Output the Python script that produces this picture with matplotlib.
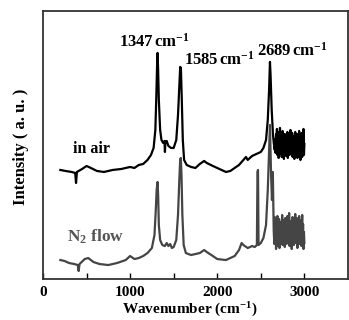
import matplotlib
matplotlib.use('Agg')
import matplotlib.pyplot as plt

plt.rcParams['font.family'] = ['Liberation Serif', 'DejaVu Serif']
plt.rcParams['font.weight'] = 'bold'
plt.rcParams['mathtext.fontset'] = 'custom'
plt.rcParams['mathtext.rm'] = 'Liberation Serif:bold'
plt.rcParams['mathtext.it'] = 'Liberation Serif:bold'
plt.rcParams['mathtext.bf'] = 'Liberation Serif:bold'

# Raman spectra (wavenumber in cm-1, intensity in a.u.)
air_wn = [200, 260, 330, 370, 380, 390, 450, 500, 550, 620, 700, 800, 900, 1000,
          1050, 1100, 1150, 1200, 1240, 1270, 1290, 1300, 1310, 1315, 1322, 1330,
          1345, 1360, 1380, 1395, 1400, 1405, 1420, 1440, 1470, 1500, 1530, 1550,
          1565, 1575, 1583, 1592, 1605, 1620, 1650, 1700, 1750, 1800, 1850, 1880,
          1950, 2000, 2050, 2100, 2150, 2200, 2250, 2300, 2330, 2350, 2400, 2450,
          2500, 2530, 2560, 2580, 2595, 2605, 2612, 2625, 2640, 2650,
          2660, 2665, 2670, 2675, 2680, 2685, 2690, 2695, 2700, 2705, 2710, 2715,
          2720, 2725, 2730, 2735, 2740, 2745, 2750, 2755, 2760, 2765, 2770, 2775,
          2780, 2785, 2790, 2795, 2800, 2805, 2810, 2815, 2820, 2825, 2830, 2835,
          2840, 2845, 2850, 2855, 2860, 2865, 2870, 2875, 2880, 2885, 2890, 2895,
          2900, 2905, 2910, 2915, 2920, 2925, 2930, 2935, 2940, 2945, 2950, 2955,
          2960, 2965, 2970, 2975, 2980, 2985, 2990, 2995, 3000]
air_int = [109, 108, 107, 106, 96, 107, 110, 113, 111, 108, 107, 109, 110, 112,
           111, 114, 115, 119, 124, 131, 149, 179, 214, 226, 209, 179,
           149, 139, 136, 138, 127, 137, 138, 133, 131, 131, 139, 164,
           194, 212, 211, 184, 139, 119, 114, 112, 111, 115, 118, 116,
           113, 111, 109, 107, 108, 111, 114, 119, 122, 119, 123, 125,
           127, 131, 139, 159, 189, 217, 204, 169, 144, 135,
           129, 140, 126, 145, 131, 150, 124, 138, 147, 121, 142, 130,
           151, 125, 139, 146, 122, 136, 148, 127, 141, 120, 137, 145,
           128, 140, 123, 143, 132, 147, 121, 138, 129, 144, 124, 136,
           149, 126, 140, 131, 146, 122, 137, 128, 143, 120, 135, 147,
           125, 139, 130, 145, 121, 136, 142, 124, 148, 127, 138, 119,
           141, 133, 146, 122, 137, 128, 150, 124, 135]

n2_wn = [200, 250, 300, 360, 400, 410, 420, 480, 520, 580, 650, 750, 850, 950,
         1000, 1050, 1100, 1150, 1200, 1250, 1280, 1295, 1305, 1315, 1322, 1330,
         1345, 1370, 1400, 1420, 1440, 1460, 1480, 1500, 1530, 1550, 1565, 1575,
         1582, 1590, 1600, 1615, 1640, 1700, 1800, 1850, 1880, 1950, 2000, 2100,
         2200, 2250, 2280, 2300, 2350, 2400, 2430, 2455, 2462, 2468, 2474, 2500,
         2530, 2560, 2580, 2595, 2605, 2612, 2618, 2628, 2638, 2648,
         2655, 2660, 2665, 2670, 2675, 2680, 2685, 2690, 2695, 2700, 2705, 2710,
         2715, 2720, 2725, 2730, 2735, 2740, 2745, 2750, 2755, 2760, 2765, 2770,
         2775, 2780, 2785, 2790, 2795, 2800, 2805, 2810, 2815, 2820, 2825, 2830,
         2835, 2840, 2845, 2850, 2855, 2860, 2865, 2870, 2875, 2880, 2885, 2890,
         2895, 2900, 2905, 2910, 2915, 2920, 2925, 2930, 2935, 2940, 2945, 2950,
         2955, 2960, 2965, 2970, 2975, 2980, 2985, 2990, 2995, 3000]
n2_int = [19, 18, 16, 15, 14, 8, 15, 20, 21, 17, 15, 14, 16, 19,
          23, 20, 21, 23, 26, 31, 44, 69, 89, 97, 84, 54,
          39, 34, 33, 36, 33, 35, 31, 32, 39, 64, 99, 119,
          121, 104, 64, 34, 26, 24, 26, 29, 27, 23, 20, 19,
          23, 29, 36, 34, 31, 33, 32, 34, 107, 109, 34, 36,
          41, 54, 89, 129, 154, 129, 104, 79, 107, 49,
          35, 62, 38, 55, 30, 58, 41, 63, 33, 52, 44, 60,
          31, 49, 57, 36, 54, 42, 64, 34, 51, 39, 59, 45,
          32, 61, 40, 55, 35, 50, 63, 37, 53, 43, 66, 33,
          48, 58, 38, 56, 30, 51, 62, 41, 54, 34, 60, 44,
          65, 36, 52, 40, 61, 31, 50, 57, 39, 63, 35, 53,
          45, 59, 33, 48, 64, 37, 55, 30, 47, 36]

fig = plt.figure(figsize=(3.49, 3.2), dpi=100)
ax = fig.add_axes([0.123, 0.128, 0.874, 0.838])

ax.plot(air_wn, air_int, color='black', lw=1.6)
ax.plot(n2_wn, n2_int, color='#454545', lw=1.6)

ax.set_xlim(0, 3500)
ax.set_ylim(0, 268)
ax.set_xticks([0, 1000, 2000, 3000])
ax.set_xticks([500, 1500, 2500], minor=True)
ax.set_yticks([])
ax.tick_params(axis='x', which='both', direction='in', length=4, width=1,
               pad=5, labelsize=11)
for s in ax.spines.values():
    s.set_linewidth(1.3)
    s.set_color('#333333')

ax.text(1279, 232, '1347$\\,$cm$^{-1}$', ha='center', va='baseline', fontsize=12)
ax.text(1624, 214, '1585$\\,$cm$^{-1}$', ha='left', va='baseline', fontsize=12)
ax.text(2454, 223, '2689$\\,$cm$^{-1}$', ha='left', va='baseline', fontsize=12)
ax.text(346, 126, 'in air', ha='left', va='baseline', fontsize=11.5)
ax.text(276, 37, 'N$_2$ flow', ha='left', va='baseline', fontsize=12.5,
        color='#555555')

fig.text(21 / 349, 1 - 147 / 320, 'Intensity ( a. u. )', rotation=90,
         ha='center', va='center', fontsize=12)
fig.text(190 / 349, 1 / 320, 'Wavenumber (cm$^{-1}$)', ha='center',
         va='bottom', fontsize=11)

fig.savefig('out.png', dpi=100)
